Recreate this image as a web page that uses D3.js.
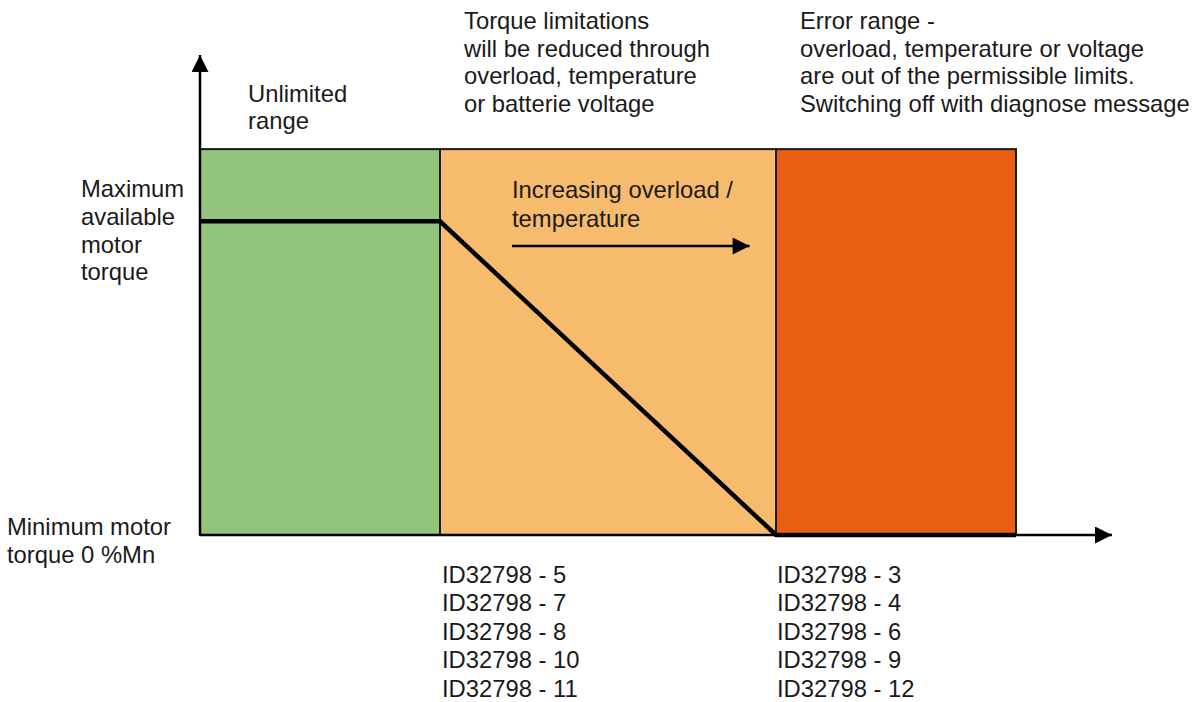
<!DOCTYPE html>
<html>
<head>
<meta charset="utf-8">
<script src="https://cdn.jsdelivr.net/npm/d3@7"></script>
<style>
  body { margin: 0; background: #fff; }
  svg text { font-family: "Liberation Sans", Arial, sans-serif; font-size: 23.8px; fill: #1a1a1a; }
</style>
</head>
<body>
<svg id="chart" width="1200" height="702"></svg>
<script>
// zones along the load axis (x in relative units)
const zoneNames = ["unlimited", "limited", "error"];
const zoneStart = [0, 1, 2.4];
const zoneEnd = [1, 2.4, 3.4];
const zoneColors = ["#93c47b", "#f6bb6d", "#ea5e12"];
const zoneTop = 123; // % of max torque

// torque curve: x in load units, y in % of max torque
const curveX = [0, 1, 2.4, 3.4];
const curveY = [100, 100, 0, 0];

// text blocks
const headTexts = [
  ["Unlimited", "range"],
  ["Torque limitations", "will be reduced through", "overload, temperature", "or batterie voltage"],
  ["Error range -", "overload, temperature or voltage", "are out of the permissible limits.", "Switching off with diagnose message"]
];
const idsLimited = ["ID32798 - 5", "ID32798 - 7", "ID32798 - 8", "ID32798 - 10", "ID32798 - 11"];
const idsError = ["ID32798 - 3", "ID32798 - 4", "ID32798 - 6", "ID32798 - 9", "ID32798 - 12"];
const maxLabel = ["Maximum", "available", "motor", "torque"];
const minLabel = ["Minimum motor", "torque 0 %Mn"];
const trendLabel = ["Increasing overload /", "temperature"];

const svg = d3.select("#chart");

// scales
const x = d3.scaleLinear().domain([0, 3.8]).range([200, 1112]);
const y = d3.scaleLinear().domain([0, 153]).range([535, 55]);

// arrow marker
const defs = svg.append("defs");
defs.append("marker")
    .attr("id", "arrow")
    .attr("viewBox", "0 0 10 10")
    .attr("refX", 10).attr("refY", 5)
    .attr("markerUnits", "userSpaceOnUse")
    .attr("markerWidth", 29).attr("markerHeight", 17)
    .attr("orient", "auto")
  .append("path")
    .attr("d", "M0,0L10,5L0,10Z")
    .attr("fill", "#000");

// zone rectangles
svg.append("g")
  .selectAll("rect")
  .data(zoneNames)
  .join("rect")
    .attr("x", (d, i) => x(zoneStart[i]))
    .attr("y", y(zoneTop))
    .attr("width", (d, i) => x(zoneEnd[i]) - x(zoneStart[i]))
    .attr("height", y(0) - y(zoneTop))
    .attr("fill", (d, i) => zoneColors[i])
    .attr("stroke", "#1a1a1a")
    .attr("stroke-width", 2);

// axes
svg.append("line")
    .attr("x1", x(0)).attr("y1", y(0))
    .attr("x2", x(0)).attr("y2", y(153))
    .attr("stroke", "#000").attr("stroke-width", 2.5)
    .attr("marker-end", "url(#arrow)");
svg.append("line")
    .attr("x1", x(0)).attr("y1", y(0))
    .attr("x2", x(3.8)).attr("y2", y(0))
    .attr("stroke", "#000").attr("stroke-width", 2.5)
    .attr("marker-end", "url(#arrow)");

// torque curve
const line = d3.line()
    .x((d, i) => x(curveX[i]))
    .y((d, i) => y(curveY[i]));
svg.append("path")
    .datum(curveX)
    .attr("d", line)
    .attr("fill", "none")
    .attr("stroke", "#000")
    .attr("stroke-width", 4.5)
    .attr("stroke-linejoin", "miter");

// trend arrow inside limited zone
svg.append("line")
    .attr("x1", x(1.3)).attr("y1", 246)
    .attr("x2", x(2.29)).attr("y2", 246)
    .attr("stroke", "#000").attr("stroke-width", 2.5)
    .attr("marker-end", "url(#arrow)");

// helper for multi-line text
function block(lines, tx, ty, lh) {
  svg.append("g")
    .selectAll("text")
    .data(lines)
    .join("text")
      .attr("x", tx)
      .attr("y", (d, i) => ty + i * lh)
      .text(d => d);
}

block(headTexts[0], 248, 102, 27);
block(headTexts[1], 464, 29, 27.6);
block(headTexts[2], 800, 29, 27.6);
block(trendLabel, 512, 198, 29);
block(maxLabel, 81, 197, 27.8);
block(minLabel, 7, 535, 28);
block(idsLimited, 442, 583, 28.4);
block(idsError, 777, 583, 28.4);
</script>
</body>
</html>
